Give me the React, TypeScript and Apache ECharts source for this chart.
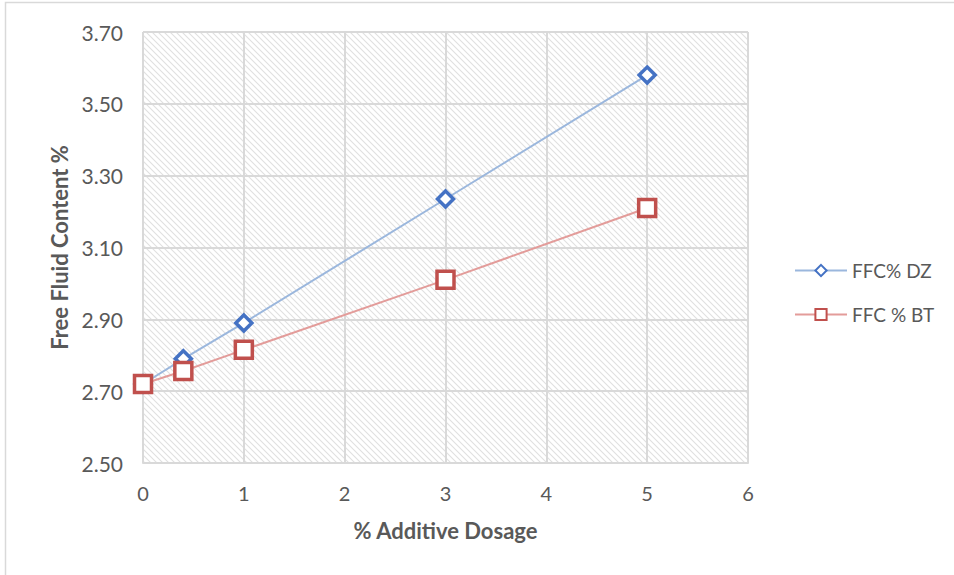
import React, { useEffect, useRef } from "react";
import * as echarts from "echarts";

// Dosage levels (% additive) and measured free fluid content (%)
const dosage = [0, 0.4, 1, 3, 5];
const ffcDZ = [2.72, 2.79, 2.89, 3.235, 3.58];
const ffcBT = [2.72, 2.756, 2.815, 3.01, 3.21];

// Value axis runs from 2.50 to 3.70 in steps of 0.20
const yBase = 2.5;
const yTop = 3.7;
const yStep = 0.2;

const FONT = "Lato, 'Open Sans', sans-serif";
const LABEL_COLOR = "#595959";
const GRID_COLOR = "#d9d9d9";

function makeHatch(): HTMLCanvasElement {
  const size = 6;
  const c = document.createElement("canvas");
  c.width = size;
  c.height = size;
  const ctx = c.getContext("2d")!;
  ctx.fillStyle = "#ffffff";
  ctx.fillRect(0, 0, size, size);
  ctx.strokeStyle = "#e0e0e0";
  ctx.lineWidth = 1.1;
  ctx.beginPath();
  ctx.moveTo(-1, -1);
  ctx.lineTo(size + 1, size + 1);
  ctx.moveTo(-1, size - 1);
  ctx.lineTo(1, size + 1);
  ctx.moveTo(size - 1, -1);
  ctx.lineTo(size + 1, 1);
  ctx.stroke();
  return c;
}

export default function App() {
  const ref = useRef<HTMLDivElement>(null);

  useEffect(() => {
    document.body.style.margin = "0";
    if (!ref.current) return;
    const chart = echarts.init(ref.current, undefined, { renderer: "svg" });

    const toAxis = (v: number) => +(v - yBase).toFixed(4);

    chart.setOption({
      animation: false,
      backgroundColor: "#ffffff",
      graphic: [
        {
          type: "rect",
          shape: { x: 5.5, y: 2.5, width: 1000, height: 700 },
          style: { fill: "none", stroke: GRID_COLOR, lineWidth: 1.5 },
          silent: true,
        },
      ],
      grid: {
        left: 143,
        right: 206,
        top: 32,
        bottom: 112,
        show: true,
        borderWidth: 0,
        backgroundColor: { image: makeHatch(), repeat: "repeat" },
      },
      legend: {
        orient: "vertical",
        left: 789,
        top: 256,
        itemGap: 25,
        itemWidth: 52,
        itemHeight: 14,
        textStyle: { color: LABEL_COLOR, fontFamily: FONT, fontSize: 19 },
        data: ["FFC% DZ", "FFC % BT"],
      },
      xAxis: {
        type: "value",
        min: 0,
        max: 6,
        interval: 1,
        name: "% Additive Dosage",
        nameLocation: "middle",
        nameGap: 56,
        nameTextStyle: {
          color: LABEL_COLOR,
          fontFamily: FONT,
          fontSize: 22,
          fontWeight: "bold",
        },
        axisLine: { show: true, lineStyle: { color: GRID_COLOR, width: 2 } },
        axisTick: { show: false },
        axisLabel: {
          color: LABEL_COLOR,
          fontFamily: FONT,
          fontSize: 20,
          margin: 20,
        },
        splitLine: { show: true, lineStyle: { color: GRID_COLOR, width: 2 } },
      },
      yAxis: {
        type: "value",
        min: 0,
        max: +(yTop - yBase).toFixed(4),
        interval: yStep,
        name: "Free Fluid Content %",
        nameLocation: "middle",
        nameGap: 73,
        nameTextStyle: {
          color: LABEL_COLOR,
          fontFamily: FONT,
          fontSize: 22,
          fontWeight: "bold",
        },
        axisLine: { show: false },
        axisTick: { show: false },
        axisLabel: {
          color: LABEL_COLOR,
          fontFamily: FONT,
          fontSize: 21,
          margin: 20,
          formatter: (v: number) => (v + yBase).toFixed(2),
        },
        splitLine: { show: true, lineStyle: { color: GRID_COLOR, width: 2 } },
      },
      series: [
        {
          name: "FFC% DZ",
          type: "line",
          data: dosage.map((x, i) => [x, toAxis(ffcDZ[i])]),
          symbol: "diamond",
          symbolSize: 16,
          showSymbol: true,
          lineStyle: { color: "#9bb7dd", width: 2 },
          itemStyle: { color: "#ffffff", borderColor: "#4472c4", borderWidth: 3.5 },
          z: 3,
        },
        {
          name: "FFC % BT",
          type: "line",
          data: dosage.map((x, i) => [x, toAxis(ffcBT[i])]),
          symbol: "rect",
          symbolSize: 17,
          showSymbol: true,
          lineStyle: { color: "#e39c9a", width: 2 },
          itemStyle: { color: "#ffffff", borderColor: "#c0504d", borderWidth: 3.5 },
          z: 4,
        },
      ],
    });

    return () => chart.dispose();
  }, []);

  return <div ref={ref} style={{ width: 954, height: 575 }} />;
}
